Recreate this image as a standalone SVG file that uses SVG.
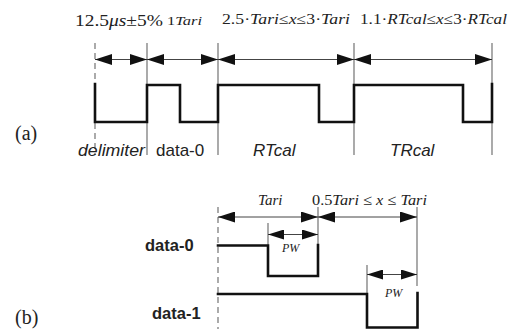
<svg xmlns="http://www.w3.org/2000/svg" width="510" height="329" viewBox="0 0 510 329">
<style>
.bg{fill:#fff}
.sig{fill:none;stroke:#111;stroke-width:2.6;stroke-linejoin:miter;stroke-linecap:square}
.tick{fill:none;stroke:#666;stroke-width:1.1}
.dash{fill:none;stroke:#666;stroke-width:1.1;stroke-dasharray:6 4}
.dim{fill:none;stroke:#444;stroke-width:1;marker-start:url(#ah);marker-end:url(#ah)}
.dims{fill:none;stroke:#444;stroke-width:1;marker-start:url(#ahs);marker-end:url(#ahs)}
.ser{font-family:"Liberation Serif","Times New Roman",serif;fill:#222}
.san{font-family:"Liberation Sans",Arial,sans-serif;fill:#222}
.it{font-style:italic}
</style>
<defs>
<marker id="ah" markerUnits="userSpaceOnUse" markerWidth="17" markerHeight="11" refX="17" refY="5.5" orient="auto-start-reverse" viewBox="0 0 17 11"><path d="M0,0 L17,5.5 L0,11 Z" fill="#111"/></marker>
<marker id="ahs" markerUnits="userSpaceOnUse" markerWidth="16" markerHeight="10" refX="16" refY="5" orient="auto-start-reverse" viewBox="0 0 16 10"><path d="M0,0 L16,5 L0,10 Z" fill="#111"/></marker>
</defs>
<rect class="bg" x="0" y="0" width="510" height="329"/>

<g id="part-a">
  <g id="a-ticks">
    <path class="dash" d="M95,43 V155"/>
    <path class="tick" d="M147,43 V155 M218,43 V155 M354,43 V155 M492,43 V155"/>
  </g>
  <g id="a-waveform">
    <path class="sig" d="M95,84 V122 H147 V85 H180 V122 H218 V85 H319 V122 H354 V85 H463 V122 H492 V84"/>
  </g>
  <g id="a-dimensions">
    <path class="dim" d="M95,59.5 H147"/>
    <path class="dim" d="M147,59.5 H218"/>
    <path class="dim" d="M218,59.5 H354"/>
    <path class="dim" d="M354,59.5 H492"/>
  </g>
  <g id="a-top-labels">
    <text class="ser" x="75" y="26" font-size="17.5" textLength="88" lengthAdjust="spacingAndGlyphs">12.5<tspan class="it">μs</tspan>±5%</text>
    <text class="ser" x="167" y="25" font-size="13.5" textLength="35" lengthAdjust="spacingAndGlyphs">1<tspan class="it">Tari</tspan></text>
    <text class="ser" x="222" y="24" font-size="14.5" textLength="128" lengthAdjust="spacingAndGlyphs">2.5·<tspan class="it">Tari</tspan>≤<tspan class="it">x</tspan>≤3·<tspan class="it">Tari</tspan></text>
    <text class="ser" x="360" y="24" font-size="14.5" textLength="147" lengthAdjust="spacingAndGlyphs">1.1·<tspan class="it">RTcal</tspan>≤<tspan class="it">x</tspan>≤3·<tspan class="it">RTcal</tspan></text>
  </g>
  <g id="a-bottom-labels">
    <text class="san it" x="78" y="156" font-size="17" textLength="67" lengthAdjust="spacingAndGlyphs">delimiter</text>
    <text class="san" x="156" y="156" font-size="17">data-0</text>
    <text class="san it" x="253" y="156" font-size="17">RTcal</text>
    <text class="san it" x="390" y="156" font-size="17">TRcal</text>
  </g>
  <text id="label-a" class="ser" x="15" y="140" font-size="20">(a)</text>
</g>

<g id="part-b">
  <g id="b-ticks">
    <path class="dash" d="M218,207 V329"/>
    <path class="tick" d="M318,207 V245 M417,207 V286 M268,223 V246 M367,265 V294"/>
  </g>
  <g id="b-waveforms">
    <path id="wave-data-0" class="sig" d="M218,245.5 H268 V276 H318 V245"/>
    <path id="wave-data-1" class="sig" d="M218,294 H367 V327.5 H417.5 V293"/>
  </g>
  <g id="b-dimensions">
    <path class="dim" d="M218,217 H318"/>
    <path class="dim" d="M318,217 H417"/>
    <path class="dims" d="M268,234.5 H318"/>
    <path class="dims" d="M367,274.5 H417"/>
  </g>
  <g id="b-labels">
    <text class="ser it" x="258" y="205" font-size="15">Tari</text>
    <text class="ser" x="312" y="205" font-size="15" textLength="115" lengthAdjust="spacingAndGlyphs">0.5<tspan class="it">Tari</tspan> ≤ <tspan class="it">x</tspan> ≤ <tspan class="it">Tari</tspan></text>
    <text class="ser it" x="282" y="252" font-size="12">PW</text>
    <text class="ser it" x="385" y="297" font-size="12">PW</text>
    <text class="san" x="145" y="251" font-size="16.5" font-weight="bold">data-0</text>
    <text class="san" x="152" y="319" font-size="16.5" font-weight="bold">data-1</text>
  </g>
  <text id="label-b" class="ser" x="15" y="324" font-size="20">(b)</text>
</g>
</svg>
